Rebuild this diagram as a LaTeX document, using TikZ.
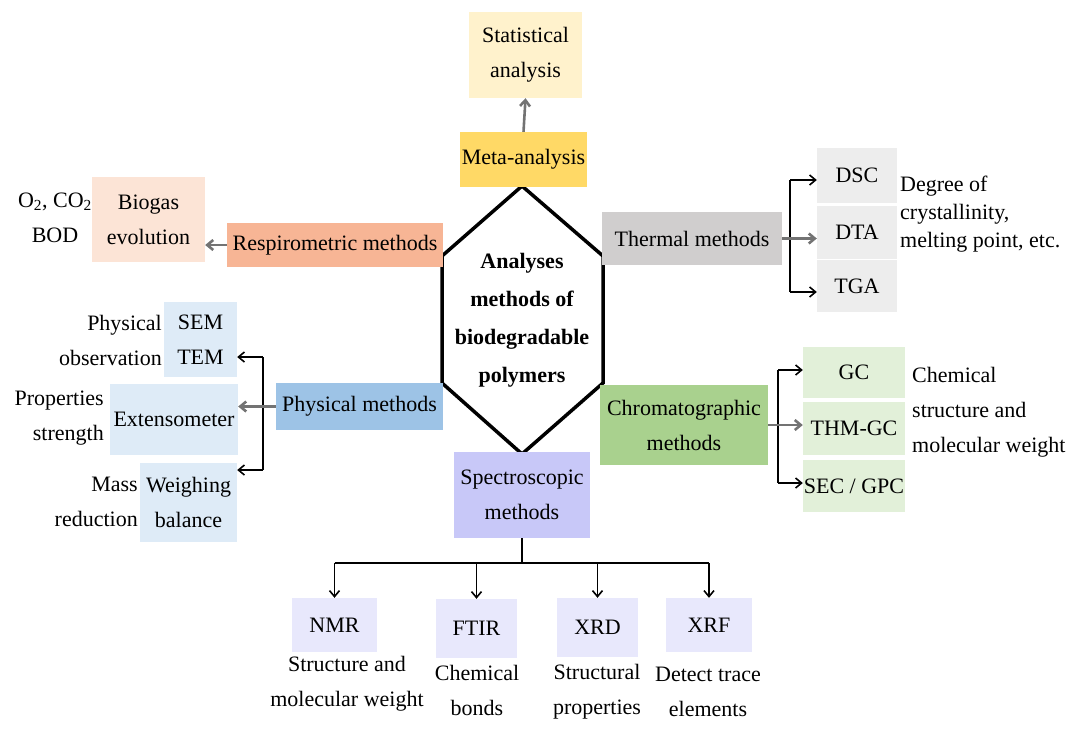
\documentclass[tikz,border=0pt]{standalone}
\usepackage{fontspec}
\setmainfont{Liberation Serif}
\usetikzlibrary{arrows.meta, positioning}
\definecolor{statfill}{HTML}{FFF2CC}
\definecolor{metafill}{HTML}{FFD966}
\definecolor{respfill}{HTML}{F7B595}
\definecolor{biogasfill}{HTML}{FCE4D6}
\definecolor{thermfill}{HTML}{D0CECE}
\definecolor{thermlight}{HTML}{EDEDED}
\definecolor{chromfill}{HTML}{A9D18E}
\definecolor{chromlight}{HTML}{E2F0D9}
\definecolor{physfill}{HTML}{9DC3E6}
\definecolor{physlight}{HTML}{DEEBF7}
\definecolor{specfill}{HTML}{C8C8F8}
\definecolor{speclight}{HTML}{E8E8FC}
\tikzset{
	methodbox/.style={
			shape=rectangle,
			inner sep=0pt,
			align=center,
			font=\fontsize{22}{35}\selectfont
		},
	notetext/.style={
			inner sep=0pt,
			font=\fontsize{22}{35}\selectfont
		},
	coretext/.style={
			inner sep=0pt,
			align=center,
			font=\fontsize{22}{38}\selectfont\bfseries
		},
	link/.style={
			line width=1.6pt,
			black
		},
	stem/.style={
			line width=2.6pt,
			black!55
		}
}

\begin{document}
\begin{tikzpicture}[x=1pt, y=-1pt, >={Straight Barb[length=6pt,width=10pt]}]
	\useasboundingbox (0,0) rectangle (1070,729);

	% centre
	\draw[line width=3.5pt, line join=miter] (522,186) -- (603,256) -- (603,383) -- (522,454)
		-- (442,383) -- (442,256) -- cycle;
	\node[coretext] (core) at (522,320) {Analyses\\methods of\\biodegradable\\polymers};

	% top
	\node[methodbox, fill=statfill, minimum width=113pt, minimum height=86pt] (stat) at (525.5,55) {Statistical\\analysis};
	\node[methodbox, fill=metafill, minimum width=127pt, minimum height=55pt] (meta) at (523.5,159.5) {Meta-analysis};

	% left
	\node[methodbox, fill=respfill, minimum width=216pt, minimum height=44pt] (resp) at (335,245) {Respirometric methods};
	\node[methodbox, fill=biogasfill, minimum width=113pt, minimum height=85pt] (biogas) at (148.5,219.5) {Biogas\\evolution};
	\node[notetext, align=center] (gasnote) at (55,218) {O\textsubscript{2}, CO\textsubscript{2}\\BOD};

	\node[methodbox, fill=physfill, minimum width=167pt, minimum height=47pt] (phys) at (359.5,406.5) {Physical methods};
	\node[methodbox, fill=physlight, minimum width=73pt, minimum height=75pt] (semtem) at (200.5,339.5) {SEM\\TEM};
	\node[methodbox, fill=physlight, minimum width=128pt, minimum height=71pt] (exten) at (174,419.5) {Extensometer};
	\node[methodbox, fill=physlight, minimum width=97pt, minimum height=79pt] (weigh) at (188.5,502.5) {Weighing\\balance};
	\node[notetext, align=right, anchor=east] (obsnote) at (162,340) {Physical\\observation};
	\node[notetext, align=right, anchor=east] (propnote) at (104,418) {Properties\\strength};
	\node[notetext, align=right, anchor=east] (massnote) at (138,502) {Mass\\reduction};

	% right
	\node[methodbox, fill=thermfill, minimum width=180pt, minimum height=53pt] (thermal) at (692,238.5) {Thermal methods};
	\node[methodbox, fill=thermlight, minimum width=80pt, minimum height=55pt] (dsc) at (857,175.5) {DSC};
	\node[methodbox, fill=thermlight, minimum width=80pt, minimum height=53pt] (dta) at (857,232.5) {DTA};
	\node[methodbox, fill=thermlight, minimum width=80pt, minimum height=52pt] (tga) at (857,286) {TGA};
	\node[notetext, align=left, anchor=west, font=\fontsize{22}{28}\selectfont] (thermnote) at (900,214) {Degree of\\crystallinity,\\melting point, etc.};

	\node[methodbox, fill=chromfill, minimum width=168pt, minimum height=80pt] (chrom) at (684,425) {Chromatographic\\methods};
	\node[methodbox, fill=chromlight, minimum width=102pt, minimum height=51pt] (gc) at (854,372.5) {GC};
	\node[methodbox, fill=chromlight, minimum width=102pt, minimum height=53pt] (thmgc) at (854,428.5) {THM-GC};
	\node[methodbox, fill=chromlight, minimum width=102pt, minimum height=52pt] (secgpc) at (854,486) {SEC / GPC};
	\node[notetext, align=left, anchor=west] (chromnote) at (912,412) {Chemical\\structure and\\molecular weight};

	% bottom
	\node[methodbox, fill=specfill, minimum width=136pt, minimum height=86pt] (spec) at (522,495) {Spectroscopic\\methods};
	\node[methodbox, fill=speclight, minimum width=85pt, minimum height=54pt] (nmr) at (334.5,625) {NMR};
	\node[methodbox, fill=speclight, minimum width=81pt, minimum height=59pt] (ftir) at (476.5,628.5) {FTIR};
	\node[methodbox, fill=speclight, minimum width=81pt, minimum height=59pt] (xrd) at (597.5,627.5) {XRD};
	\node[methodbox, fill=speclight, minimum width=86pt, minimum height=54pt] (xrf) at (709,625) {XRF};
	\node[notetext, align=center] (nmrnote) at (347,684) {Structure and\\molecular weight};
	\node[notetext, align=center] (ftirnote) at (477,690) {Chemical\\bonds};
	\node[notetext, align=center] (xrdnote) at (597,692) {Structural\\properties};
	\node[notetext, align=center] (xrfnote) at (708,692) {Detect trace\\elements};

	% connectors
	\draw[->, stem] (meta.north) -- (stat.south);
	\draw[->, stem] (resp.west) -- (resp.west -| biogas.east);

	\coordinate (thtop) at (790,180);
	\coordinate (thbot) at (790,292);
	\draw[link] (thtop) -- (thbot);
	\draw[->, stem] (thermal.east) -- (thermal.east -| dta.west);
	\draw[->, link] (thtop) -- (thtop -| dsc.west);
	\draw[->, link] (thbot) -- (thbot -| tga.west);

	\coordinate (chtop) at (778,370);
	\coordinate (chbot) at (778,483);
	\draw[link] (chtop) -- (chbot);
	\draw[->, stem] (chrom.east) -- (chrom.east -| thmgc.west);
	\draw[->, link] (chtop) -- (chtop -| gc.west);
	\draw[->, link] (chbot) -- (chbot -| secgpc.west);

	\coordinate (phtop) at (263,357);
	\coordinate (phbot) at (263,470);
	\draw[link] (phtop) -- (phbot);
	\draw[->, stem] (phys.west) -- (phys.west -| exten.east);
	\draw[->, link] (phtop) -- (phtop -| semtem.east);
	\draw[->, link] (phbot) -- (phbot -| weigh.east);

	\coordinate (spjoin) at (522,563);
	\draw[link] (spec.south) -- (spjoin);
	\draw[link] (nmr.north |- spjoin) -- (xrf.north |- spjoin);
	\draw[->, link] (nmr.north |- spjoin) -- (nmr.north);
	\draw[->, link] (ftir.north |- spjoin) -- (ftir.north);
	\draw[->, link] (xrd.north |- spjoin) -- (xrd.north);
	\draw[->, link] (xrf.north |- spjoin) -- (xrf.north);

\end{tikzpicture}
\end{document}
